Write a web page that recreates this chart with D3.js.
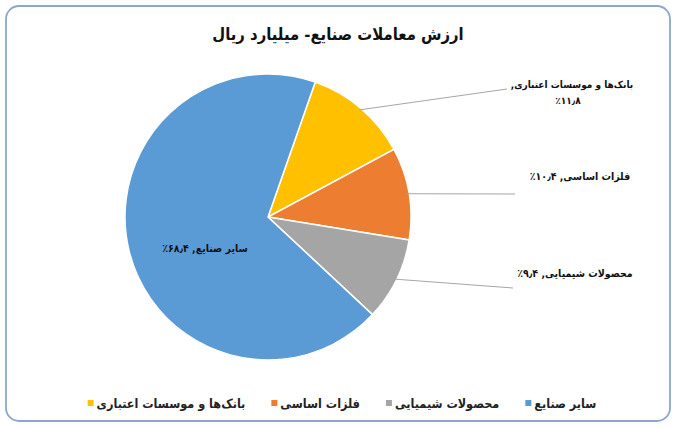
<!DOCTYPE html>
<html><head><meta charset="utf-8">
<script src="https://cdn.jsdelivr.net/npm/d3@7"></script>
<style>
html,body{margin:0;padding:0;background:#fff;}
svg{display:block;font-family:"DejaVu Sans Condensed","DejaVu Sans",sans-serif;}
</style></head>
<body>
<svg id="c" width="675" height="428"></svg>
<script>
// ---- data ----
const title = "ارزش معاملات صنایع- میلیارد ریال";
const categories = ["بانک‌ها و موسسات اعتباری", "فلزات اساسی", "محصولات شیمیایی", "سایر صنایع"];
const values = [11.8, 10.4, 9.4, 68.4];
const colors = ["#FFC000", "#ED7D31", "#A5A5A5", "#5B9BD5"];

// ---- helpers ----
const faDigits = "۰۱۲۳۴۵۶۷۸۹";
function fa(n){ return n.toFixed(1).replace(/[0-9]/g, d => faDigits[+d]).replace(".", "٫"); }
// percent shown to the left of the number, as in the reference (LTR isolate)
function pctText(v){ return "\u2066٪" + fa(v) + "\u2069"; }

const svg = d3.select("#c");
svg.append("rect").attr("x",6).attr("y",6).attr("width",664).attr("height",415)
  .attr("rx",13).attr("fill","#fff").attr("stroke","#8FA5CF").attr("stroke-width",1.8);

svg.append("text").attr("x",338).attr("y",40).attr("text-anchor","middle")
  .attr("direction","rtl").attr("font-size",16.5).attr("font-weight","bold").attr("fill","#111")
  .text(title);

const cx = 268, cy = 217, R = 143;
const startA = 19.3 * Math.PI / 180;
const pie = d3.pie().sort(null).startAngle(startA).endAngle(startA + 2*Math.PI);
const arcs = pie(values);
const arc = d3.arc().innerRadius(0).outerRadius(R);
const edgeArc = d3.arc().innerRadius(R-2).outerRadius(R-2);

const g = svg.append("g").attr("transform", `translate(${cx},${cy})`);
g.selectAll("path").data(arcs).join("path")
  .attr("d", arc).attr("fill", (d,i) => colors[i])
  .attr("stroke", "#fff").attr("stroke-width", 1.5);

// label layout (positions relative to pie centre)
const labelLayout = [
  {lx: 239, ly: -128, tx: 304, ty: -129, tx2: 300, ty2: -113, fs: 10},
  {lx: 247, ly: -23, tx: 312, ty: -37, fs: 10.5},
  {lx: 245, ly: 71, tx: 307, ty: 60, fs: 10.5},
  {lx: null, ly: null, tx: -63, ty: 35, fs: 10.5}
];

arcs.forEach((d, i) => {
  const L = labelLayout[i];
  if (L.lx !== null) {
    const p = edgeArc.centroid(d);
    g.append("line").attr("x1", p[0]).attr("y1", p[1]).attr("x2", L.lx).attr("y2", L.ly)
      .attr("stroke", "#A6A6A6").attr("stroke-width", 1);
  }
  const t = g.append("text").attr("text-anchor","middle").attr("direction","rtl")
    .attr("font-size",L.fs).attr("font-weight","bold").attr("fill","#111");
  if (L.tx2 !== undefined) {
    t.append("tspan").attr("x", L.tx).attr("y", L.ty).text(categories[i] + ",");
    t.append("tspan").attr("x", L.tx2).attr("y", L.ty2).text(pctText(values[i]));
  } else {
    t.attr("x", L.tx).attr("y", L.ty).text(categories[i] + ", " + pctText(values[i]));
  }
});

// legend (left-to-right in data order)
const leg = svg.append("g");
const items = leg.selectAll("g").data(categories).join("g");
items.append("rect").attr("width",6).attr("height",6).attr("y",-8).attr("fill",(d,i)=>colors[i]);
items.append("text").attr("x",9).attr("y",0).attr("font-size",12.5).attr("font-weight","bold")
  .attr("fill","#222").attr("direction","ltr").text(d => d);
const widths = items.nodes().map(n => n.getBBox().width);
const gap = 26;
const total = d3.sum(widths) + gap * (widths.length - 1);
let x0 = 342 - total/2;
items.attr("transform", (d,i) => { const x = x0; x0 += widths[i] + gap; return `translate(${x},408)`; });
</script>
</body></html>
